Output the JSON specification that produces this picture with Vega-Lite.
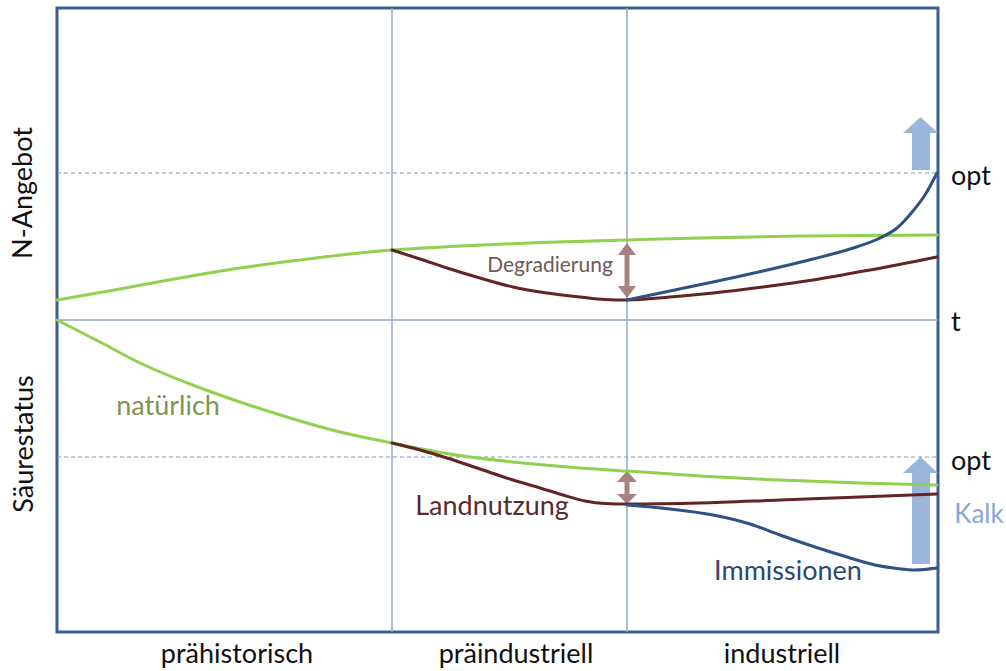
{
  "$schema": "https://vega.github.io/schema/vega-lite/v6.json",
  "width": 881,
  "height": 624,
  "autosize": {"type": "none"},
  "padding": {"left": 57, "top": 8, "right": 68, "bottom": 39},
  "config": {
    "view": {"stroke": "#3d5d8f", "strokeWidth": 3},
    "text": {"font": "Lato"}
  },
  "datasets": {
    "grid": [
      {"x": 392, "x2": 392, "y": 8, "y2": 632},
      {"x": 627, "x2": 627, "y": 8, "y2": 632},
      {"x": 57, "x2": 938, "y": 320, "y2": 320}
    ],
    "optimum": [
      {"x": 57, "x2": 938, "y": 173, "y2": 173},
      {"x": 57, "x2": 938, "y": 457, "y2": 457}
    ],
    "curves": [
      {"series": "natürlich N", "x": 57, "y": 300},
      {"series": "natürlich N", "x": 120, "y": 289},
      {"series": "natürlich N", "x": 180, "y": 278},
      {"series": "natürlich N", "x": 240, "y": 268},
      {"series": "natürlich N", "x": 300, "y": 260},
      {"series": "natürlich N", "x": 350, "y": 254},
      {"series": "natürlich N", "x": 392, "y": 250},
      {"series": "natürlich N", "x": 460, "y": 246},
      {"series": "natürlich N", "x": 540, "y": 242.5},
      {"series": "natürlich N", "x": 627, "y": 240},
      {"series": "natürlich N", "x": 700, "y": 238},
      {"series": "natürlich N", "x": 800, "y": 236},
      {"series": "natürlich N", "x": 937, "y": 235},
      {"series": "Degradierung", "x": 392, "y": 250},
      {"series": "Degradierung", "x": 420, "y": 259},
      {"series": "Degradierung", "x": 447, "y": 268},
      {"series": "Degradierung", "x": 480, "y": 278},
      {"series": "Degradierung", "x": 513, "y": 287},
      {"series": "Degradierung", "x": 547, "y": 293},
      {"series": "Degradierung", "x": 580, "y": 297},
      {"series": "Degradierung", "x": 605, "y": 299.5},
      {"series": "Degradierung", "x": 627, "y": 300},
      {"series": "Degradierung", "x": 670, "y": 297},
      {"series": "Degradierung", "x": 713, "y": 293},
      {"series": "Degradierung", "x": 763, "y": 287},
      {"series": "Degradierung", "x": 813, "y": 280},
      {"series": "Degradierung", "x": 870, "y": 270},
      {"series": "Degradierung", "x": 937, "y": 257},
      {"series": "Immissionen N", "x": 627, "y": 300},
      {"series": "Immissionen N", "x": 670, "y": 291},
      {"series": "Immissionen N", "x": 713, "y": 282},
      {"series": "Immissionen N", "x": 763, "y": 271},
      {"series": "Immissionen N", "x": 813, "y": 259},
      {"series": "Immissionen N", "x": 850, "y": 249},
      {"series": "Immissionen N", "x": 880, "y": 238},
      {"series": "Immissionen N", "x": 897, "y": 228},
      {"series": "Immissionen N", "x": 913, "y": 211},
      {"series": "Immissionen N", "x": 925, "y": 195},
      {"series": "Immissionen N", "x": 937, "y": 173},
      {"series": "natürlich S", "x": 57, "y": 320},
      {"series": "natürlich S", "x": 100, "y": 342},
      {"series": "natürlich S", "x": 140, "y": 363},
      {"series": "natürlich S", "x": 190, "y": 384},
      {"series": "natürlich S", "x": 240, "y": 402},
      {"series": "natürlich S", "x": 290, "y": 418},
      {"series": "natürlich S", "x": 340, "y": 432},
      {"series": "natürlich S", "x": 392, "y": 443},
      {"series": "natürlich S", "x": 450, "y": 454},
      {"series": "natürlich S", "x": 513, "y": 462},
      {"series": "natürlich S", "x": 580, "y": 468},
      {"series": "natürlich S", "x": 627, "y": 471},
      {"series": "natürlich S", "x": 700, "y": 476},
      {"series": "natürlich S", "x": 780, "y": 480},
      {"series": "natürlich S", "x": 860, "y": 483},
      {"series": "natürlich S", "x": 937, "y": 485},
      {"series": "Landnutzung", "x": 392, "y": 443},
      {"series": "Landnutzung", "x": 420, "y": 450},
      {"series": "Landnutzung", "x": 447, "y": 458},
      {"series": "Landnutzung", "x": 480, "y": 469},
      {"series": "Landnutzung", "x": 513, "y": 480},
      {"series": "Landnutzung", "x": 540, "y": 488},
      {"series": "Landnutzung", "x": 563, "y": 495},
      {"series": "Landnutzung", "x": 585, "y": 501},
      {"series": "Landnutzung", "x": 605, "y": 503.5},
      {"series": "Landnutzung", "x": 627, "y": 504},
      {"series": "Landnutzung", "x": 700, "y": 503},
      {"series": "Landnutzung", "x": 780, "y": 500},
      {"series": "Landnutzung", "x": 860, "y": 497},
      {"series": "Landnutzung", "x": 937, "y": 494},
      {"series": "Immissionen S", "x": 627, "y": 505},
      {"series": "Immissionen S", "x": 670, "y": 509},
      {"series": "Immissionen S", "x": 713, "y": 515},
      {"series": "Immissionen S", "x": 750, "y": 524},
      {"series": "Immissionen S", "x": 780, "y": 535},
      {"series": "Immissionen S", "x": 815, "y": 547},
      {"series": "Immissionen S", "x": 847, "y": 557},
      {"series": "Immissionen S", "x": 875, "y": 565},
      {"series": "Immissionen S", "x": 897, "y": 568.5},
      {"series": "Immissionen S", "x": 915, "y": 570},
      {"series": "Immissionen S", "x": 937, "y": 568}
    ],
    "shafts": [
      {"arrow": "Kalk", "x": 912, "x2": 930, "y": 132, "y2": 170},
      {"arrow": "Kalk", "x": 912, "x2": 930, "y": 472, "y2": 564},
      {"arrow": "Differenz", "x": 624.5, "x2": 629.5, "y": 254, "y2": 287},
      {"arrow": "Differenz", "x": 624.5, "x2": 629.5, "y": 481, "y2": 495}
    ],
    "heads": [
      {"id": "h1", "arrow": "Kalk", "x": 903, "y": 133, "y2": 133},
      {"id": "h1", "arrow": "Kalk", "x": 920.5, "y": 117, "y2": 133},
      {"id": "h1", "arrow": "Kalk", "x": 938, "y": 133, "y2": 133},
      {"id": "h2", "arrow": "Kalk", "x": 903, "y": 473, "y2": 473},
      {"id": "h2", "arrow": "Kalk", "x": 920.5, "y": 457, "y2": 473},
      {"id": "h2", "arrow": "Kalk", "x": 938, "y": 473, "y2": 473},
      {"id": "h3", "arrow": "Differenz", "x": 618, "y": 255, "y2": 255},
      {"id": "h3", "arrow": "Differenz", "x": 627, "y": 243, "y2": 255},
      {"id": "h3", "arrow": "Differenz", "x": 636, "y": 255, "y2": 255},
      {"id": "h4", "arrow": "Differenz", "x": 618, "y": 286, "y2": 286},
      {"id": "h4", "arrow": "Differenz", "x": 627, "y": 298, "y2": 286},
      {"id": "h4", "arrow": "Differenz", "x": 636, "y": 286, "y2": 286},
      {"id": "h5", "arrow": "Differenz", "x": 617, "y": 482, "y2": 482},
      {"id": "h5", "arrow": "Differenz", "x": 627, "y": 471, "y2": 482},
      {"id": "h5", "arrow": "Differenz", "x": 637, "y": 482, "y2": 482},
      {"id": "h6", "arrow": "Differenz", "x": 617, "y": 494, "y2": 494},
      {"id": "h6", "arrow": "Differenz", "x": 627, "y": 504, "y2": 494},
      {"id": "h6", "arrow": "Differenz", "x": 637, "y": 494, "y2": 494}
    ],
    "periods": [
      {"text": "prähistorisch", "x": 237, "y": 663},
      {"text": "präindustriell", "x": 516, "y": 663},
      {"text": "industriell", "x": 782, "y": 663}
    ],
    "axistitles": [
      {"text": "N-Angebot", "x": 24, "y": 193},
      {"text": "Säurestatus", "x": 25, "y": 444}
    ],
    "refs": [
      {"text": "opt", "x": 951, "y": 185},
      {"text": "t", "x": 951, "y": 331},
      {"text": "opt", "x": 951, "y": 470}
    ],
    "serieslabels": [
      {"text": "natürlich", "x": 168, "y": 415},
      {"text": "Degradierung", "x": 550, "y": 272},
      {"text": "Landnutzung", "x": 492, "y": 515},
      {"text": "Immissionen", "x": 788, "y": 580},
      {"text": "Kalk", "x": 979, "y": 523}
    ]
  },
  "encoding": {
    "x": {"field": "x", "type": "quantitative", "scale": {"domain": [57, 938], "nice": false, "zero": false}, "axis": null},
    "y": {"field": "y", "type": "quantitative", "scale": {"domain": [8, 632], "reverse": true, "nice": false, "zero": false}, "axis": null}
  },
  "layer": [
    {
      "data": {"name": "grid"},
      "mark": {"type": "rule", "color": "#94a8c3", "strokeWidth": 1.5},
      "encoding": {
        "x2": {"field": "x2"},
        "y2": {"field": "y2"}
      }
    },
    {
      "data": {"name": "optimum"},
      "mark": {"type": "rule", "color": "#8597b2", "strokeWidth": 1, "strokeDash": [4, 3]},
      "encoding": {
        "x2": {"field": "x2"},
        "y2": {"field": "y2"}
      }
    },
    {
      "data": {"name": "shafts"},
      "mark": {"type": "rect"},
      "encoding": {
        "x2": {"field": "x2"},
        "y2": {"field": "y2"},
        "color": {"field": "arrow", "type": "nominal", "scale": {"domain": ["Kalk", "Differenz"], "range": ["#9ab6da", "#a88282"]}, "legend": null}
      }
    },
    {
      "data": {"name": "heads"},
      "mark": {"type": "area", "orient": "vertical", "interpolate": "linear"},
      "encoding": {
        "y2": {"field": "y2"},
        "detail": {"field": "id"},
        "color": {"field": "arrow", "type": "nominal", "scale": {"domain": ["Kalk", "Differenz"], "range": ["#9ab6da", "#a88282"]}, "legend": null}
      }
    },
    {
      "data": {"name": "curves"},
      "mark": {"type": "line", "interpolate": "monotone", "strokeWidth": 3, "strokeCap": "round"},
      "encoding": {
        "color": {"field": "series", "type": "nominal", "scale": {"domain": ["natürlich N", "Degradierung", "Immissionen N", "natürlich S", "Landnutzung", "Immissionen S"], "range": ["#92d050", "#632523", "#2f5183", "#92d050", "#632523", "#2f5183"]}, "legend": null},
        "order": {"field": "x", "type": "quantitative"}
      }
    },
    {
      "data": {"name": "periods"},
      "mark": {"type": "text", "fontSize": 27, "color": "#111111", "align": "center", "baseline": "alphabetic"},
      "encoding": {"text": {"field": "text"}}
    },
    {
      "data": {"name": "axistitles"},
      "mark": {"type": "text", "fontSize": 27, "color": "#111111", "align": "center", "baseline": "middle", "angle": 270},
      "encoding": {"text": {"field": "text"}}
    },
    {
      "data": {"name": "refs"},
      "mark": {"type": "text", "fontSize": 27, "color": "#111111", "align": "left", "baseline": "alphabetic"},
      "encoding": {"text": {"field": "text"}}
    },
    {
      "data": {"name": "serieslabels"},
      "transform": [{"filter": "datum.text == 'natürlich'"}],
      "mark": {"type": "text", "fontSize": 27, "color": "#7f9553", "align": "center", "baseline": "alphabetic"},
      "encoding": {"text": {"field": "text"}}
    },
    {
      "data": {"name": "serieslabels"},
      "transform": [{"filter": "datum.text == 'Degradierung'"}],
      "mark": {"type": "text", "fontSize": 21, "color": "#6e5858", "align": "center", "baseline": "alphabetic"},
      "encoding": {"text": {"field": "text"}}
    },
    {
      "data": {"name": "serieslabels"},
      "transform": [{"filter": "datum.text == 'Landnutzung'"}],
      "mark": {"type": "text", "fontSize": 27, "color": "#5a2a2a", "align": "center", "baseline": "alphabetic"},
      "encoding": {"text": {"field": "text"}}
    },
    {
      "data": {"name": "serieslabels"},
      "transform": [{"filter": "datum.text == 'Immissionen'"}],
      "mark": {"type": "text", "fontSize": 27, "color": "#2c4770", "align": "center", "baseline": "alphabetic"},
      "encoding": {"text": {"field": "text"}}
    },
    {
      "data": {"name": "serieslabels"},
      "transform": [{"filter": "datum.text == 'Kalk'"}],
      "mark": {"type": "text", "fontSize": 26, "color": "#88a9d6", "align": "center", "baseline": "alphabetic"},
      "encoding": {"text": {"field": "text"}}
    }
  ],
  "resolve": {"scale": {"color": "independent"}}
}
